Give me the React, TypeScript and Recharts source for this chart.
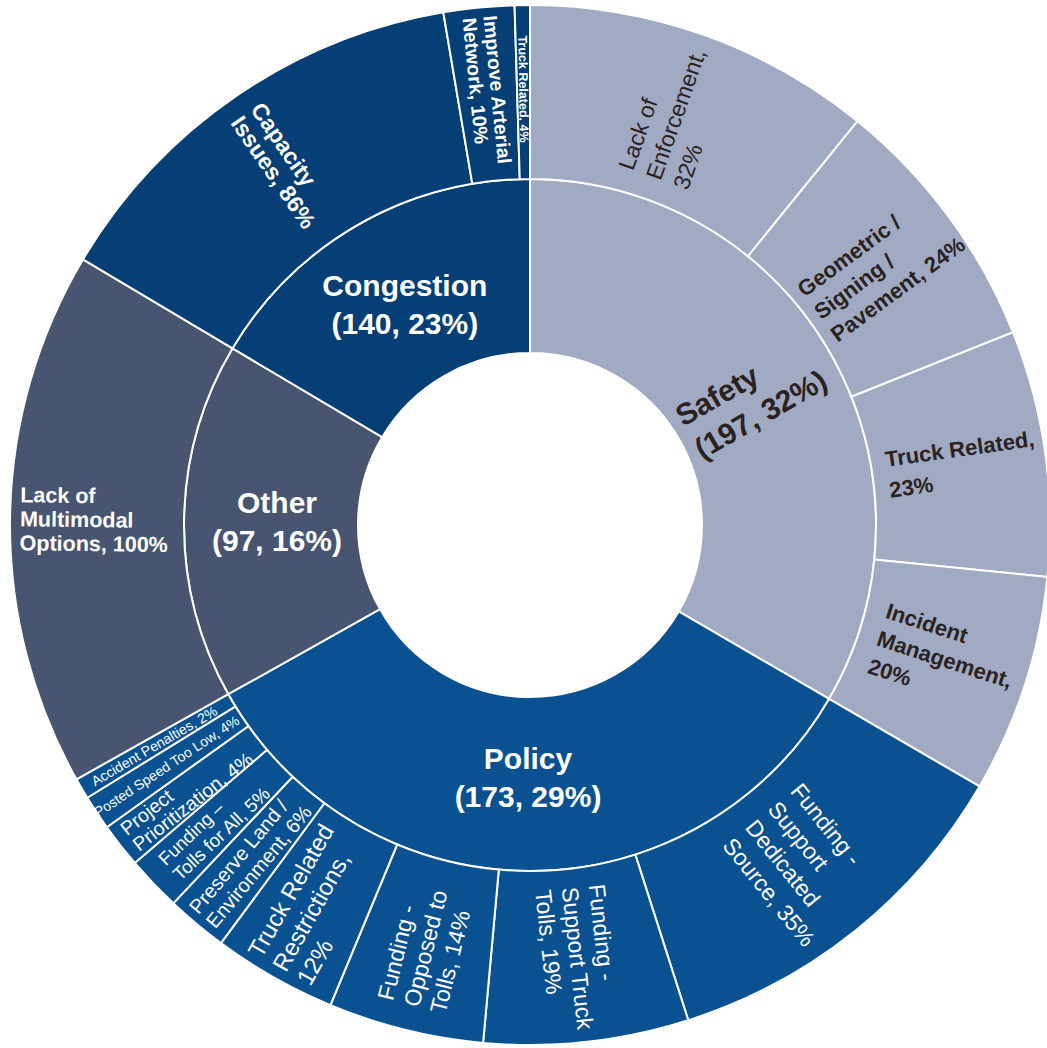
import React from "react";
import { PieChart, Pie, Cell } from "recharts";

// inner ring: categories
const CATEGORIES = ["Safety", "Policy", "Other", "Congestion"];
const CATEGORY_LABELS = ["Safety\n(197, 32%)", "Policy\n(173, 29%)", "Other\n(97, 16%)", "Congestion\n(140, 23%)"];
const CATEGORY_COLORS = ["#A0AAC3", "#0A5192", "#485570", "#053F75"];

// outer ring: items, each belongs to a category (index into CATEGORIES)
const ITEM_CATEGORY = [0, 0, 0, 0, 1, 1, 1, 1, 1, 1, 1, 1, 1, 2, 3, 3, 3];
const ITEM_LABELS = [
  "Lack of\nEnforcement,\n32%",
  "Geometric /\nSigning /\nPavement, 24%",
  "Truck Related,\n23%",
  "Incident\nManagement,\n20%",
  "Funding -\nSupport\nDedicated\nSource, 35%",
  "Funding -\nSupport Truck\nTolls, 19%",
  "Funding -\nOpposed to\nTolls, 14%",
  "Truck Related\nRestrictions,\n12%",
  "Preserve Land /\nEnvironment, 6%",
  "Funding –\nTolls for All, 5%",
  "Project\nPrioritization, 4%",
  "Posted Speed Too Low, 4%",
  "Accident Penalties, 2%",
  "Lack of\nMultimodal\nOptions, 100%",
  "Capacity\nIssues, 86%",
  "Improve Arterial\nNetwork, 10%",
  "Truck Related, 4%",
];
// drawn size of each item's arc (degrees)
const ITEM_SIZES = [39.05, 29.2, 27.5, 24.45, 42.1, 22.9, 17.4, 13.9, 6.85, 6.15, 5.0, 3.9, 2.35, 60.0, 49.7, 7.9, 1.7];

const FONT = '"Liberation Sans", Arial, sans-serif';
const DARK = "#2B2220";

// label styling per item (font size, bold, line height)
const ITEM_STYLE: { size: number; bold?: boolean; lh: number }[] = [
  { size: 23, lh: 29 },
  { size: 22, bold: true, lh: 28 },
  { size: 22, bold: true, lh: 31 },
  { size: 22, bold: true, lh: 29 },
  { size: 23, lh: 29 },
  { size: 23, lh: 27 },
  { size: 23, lh: 27 },
  { size: 24, lh: 28 },
  { size: 20, lh: 22 },
  { size: 18.5, lh: 21 },
  { size: 19.5, lh: 20 },
  { size: 14, lh: 15 },
  { size: 14, lh: 15 },
  { size: 21.5, bold: true, lh: 24 },
  { size: 23, bold: true, lh: 24 },
  { size: 19.5, bold: true, lh: 21 },
  { size: 12.5, bold: true, lh: 14 },
];

const W = 1047;
const H = 1048;
const CX = 530;
const CY = 525;
const R0 = 172;
const R1 = 346;
const R2 = 520;

let ctx: CanvasRenderingContext2D | null = null;
function measure(text: string, font: string) {
  if (!ctx) ctx = document.createElement("canvas").getContext("2d");
  if (!ctx) return text.length * 10;
  ctx.font = font;
  return ctx.measureText(text).width;
}

const toTheta = (midAngle: number) => (((90 - midAngle) % 360) + 360) % 360;

// text block centred on the radius, lines left aligned, reading along the radius
function RadialText({ cx, cy, theta, r, lines, size, bold, lh, color }: any) {
  const right = theta < 180;
  const rot = right ? theta - 90 : theta - 270;
  const rad = (theta * Math.PI) / 180;
  const x = cx + r * Math.sin(rad);
  const y = cy - r * Math.cos(rad);
  const weight = bold ? "bold" : "normal";
  const w = Math.max(...lines.map((l: string) => measure(l, `${weight} ${size}px "Liberation Sans"`)));
  const n = lines.length;
  return (
    <text
      transform={`translate(${x.toFixed(2)},${y.toFixed(2)}) rotate(${rot.toFixed(2)})`}
      fill={color}
      fontSize={size}
      fontWeight={weight}
      fontFamily={FONT}
    >
      {lines.map((l: string, i: number) => (
        <tspan key={i} x={-w / 2} y={(i - (n - 1) / 2) * lh + size * 0.35}>
          {l}
        </tspan>
      ))}
    </text>
  );
}

const renderOuter = (props: any) => {
  const { cx, cy, midAngle, innerRadius, outerRadius, index } = props;
  const st = ITEM_STYLE[index];
  const cat = ITEM_CATEGORY[index];
  return (
    <RadialText
      cx={cx}
      cy={cy}
      theta={toTheta(midAngle)}
      r={(innerRadius + outerRadius) / 2 + 3}
      lines={ITEM_LABELS[index].split("\n")}
      size={st.size}
      bold={st.bold}
      lh={st.lh}
      color={cat === 0 ? DARK : "#fff"}
    />
  );
};

const renderInner = (props: any) => {
  const { cx, cy, midAngle, innerRadius, outerRadius, index } = props;
  const theta = toTheta(midAngle);
  const lines = CATEGORY_LABELS[index].split("\n");
  const r = (innerRadius + outerRadius) / 2 - 6;
  if (CATEGORIES[index] === "Safety") {
    return (
      <RadialText cx={cx} cy={cy} theta={theta} r={r + 2} lines={lines} size={30} bold lh={38} color={DARK} />
    );
  }
  const rad = (theta * Math.PI) / 180;
  const x = cx + r * Math.sin(rad);
  const y = cy - r * Math.cos(rad);
  return (
    <text x={x} y={y} fill="#fff" fontSize={30} fontWeight="bold" fontFamily={FONT} textAnchor="middle">
      {lines.map((l, i) => (
        <tspan key={i} x={x} y={y + (i - 0.5) * 38 + 10}>
          {l}
        </tspan>
      ))}
    </text>
  );
};

export default function App() {
  const inner = CATEGORIES.map((name, i) => ({
    name,
    value: ITEM_SIZES.filter((_, j) => ITEM_CATEGORY[j] === i).reduce((a, b) => a + b, 0),
  }));
  const outer = ITEM_LABELS.map((label, i) => ({ name: label, value: ITEM_SIZES[i] }));

  return (
    <div style={{ position: "absolute", left: 0, top: 0, width: W, height: H, background: "#fff" }}>
      <PieChart width={W} height={H} margin={{ top: 0, right: 0, bottom: 0, left: 0 }}>
        <Pie
          data={inner}
          dataKey="value"
          nameKey="name"
          cx={CX}
          cy={CY}
          innerRadius={R0}
          outerRadius={R1}
          startAngle={90}
          endAngle={-270}
          stroke="#fff"
          strokeWidth={2}
          label={renderInner}
          labelLine={false}
          isAnimationActive={false}
        >
          {inner.map((d, i) => (
            <Cell key={`in-${i}`} fill={CATEGORY_COLORS[i]} />
          ))}
        </Pie>
        <Pie
          data={outer}
          dataKey="value"
          nameKey="name"
          cx={CX}
          cy={CY}
          innerRadius={R1}
          outerRadius={R2}
          startAngle={90}
          endAngle={-270}
          stroke="#fff"
          strokeWidth={2}
          label={renderOuter}
          labelLine={false}
          isAnimationActive={false}
        >
          {outer.map((d, i) => (
            <Cell key={`out-${i}`} fill={CATEGORY_COLORS[ITEM_CATEGORY[i]]} />
          ))}
        </Pie>
      </PieChart>
    </div>
  );
}
